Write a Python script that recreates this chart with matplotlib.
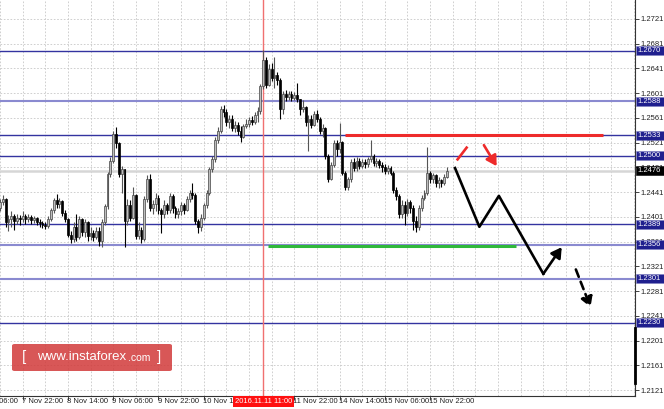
import numpy as np
import matplotlib.pyplot as plt
from matplotlib.patches import Rectangle, FancyBboxPatch, FancyArrowPatch

plt.rcParams['font.family'] = ['Liberation Sans', 'DejaVu Sans']

# hourly candles (bar index = position on chart)
first_open = 1.2415
close = [1.2425,1.2430,1.2392,1.2398,1.2402,1.2395,1.2400,1.2397,1.2403,1.2398,
         1.2401,1.2396,1.2399,1.2393,1.2391,1.2388,1.2386,1.2398,1.2412,1.2428,
         1.2422,1.2426,1.2408,1.2398,1.2372,1.2366,1.2385,1.2368,1.2398,1.2376,
         1.2392,1.2370,1.2375,1.2369,1.2378,1.2362,1.2392,1.2418,1.2470,1.2492,
         1.2535,1.2520,1.2470,1.2478,1.2395,1.2420,1.2400,1.2436,1.2370,1.2380,
         1.2365,1.2430,1.2462,1.2415,1.2422,1.2432,1.2412,1.2405,1.2420,1.2412,
         1.2435,1.2415,1.2405,1.2410,1.2420,1.2412,1.2430,1.2440,1.2436,1.2394,
         1.2385,1.2400,1.2420,1.2440,1.2478,1.2495,1.2525,1.2540,1.2575,1.2570,
         1.2555,1.2560,1.2545,1.2550,1.2540,1.2530,1.2548,1.2552,1.2558,1.2555,
         1.2565,1.2572,1.2612,1.2655,1.2615,1.2640,1.2625,1.2630,1.2622,1.2575,
         1.2600,1.2595,1.2600,1.2594,1.2598,1.2592,1.2575,1.2578,1.2555,1.2560,
         1.2550,1.2568,1.2560,1.2540,1.2545,1.2500,1.2462,1.2485,1.2520,1.2510,
         1.2522,1.2472,1.2450,1.2462,1.2490,1.2480,1.2492,1.2484,1.2490,1.2486,
         1.2494,1.2500,1.2488,1.2492,1.2485,1.2482,1.2476,1.2480,1.2472,1.2445,
         1.2434,1.2405,1.2420,1.2408,1.2425,1.2415,1.2395,1.2385,1.2415,1.2432,
         1.2440,1.2472,1.2462,1.2468,1.2456,1.2460,1.2455,1.2466,1.2476]
high = [1.2430,1.2436,1.2432,1.2404,1.2410,1.2405,1.2406,1.2404,1.2410,1.2406,
        1.2405,1.2404,1.2403,1.2401,1.2397,1.2394,1.2392,1.2402,1.2415,1.2432,
        1.2438,1.2432,1.2428,1.2412,1.2400,1.2378,1.2392,1.2405,1.2402,1.2400,
        1.2398,1.2395,1.2384,1.2380,1.2385,1.2384,1.2398,1.2422,1.2474,1.2498,
        1.2540,1.2546,1.2522,1.2484,1.2478,1.2430,1.2428,1.2450,1.2438,1.2392,
        1.2385,1.2435,1.2468,1.2470,1.2428,1.2440,1.2436,1.2415,1.2428,1.2424,
        1.2440,1.2438,1.2418,1.2416,1.2425,1.2424,1.2435,1.2445,1.2456,1.2440,
        1.2398,1.2405,1.2424,1.2444,1.2482,1.2500,1.2530,1.2546,1.2580,1.2582,
        1.2575,1.2566,1.2565,1.2556,1.2555,1.2548,1.2552,1.2560,1.2562,1.2564,
        1.2570,1.2578,1.2616,1.2671,1.2660,1.2648,1.2650,1.2660,1.2635,1.2625,
        1.2605,1.2606,1.2605,1.2604,1.2603,1.2618,1.2592,1.2590,1.2580,1.2565,
        1.2566,1.2572,1.2574,1.2562,1.2552,1.2546,1.2502,1.2490,1.2525,1.2526,
        1.2553,1.2524,1.2475,1.2466,1.2494,1.2496,1.2498,1.2496,1.2495,1.2494,
        1.2498,1.2525,1.2502,1.2496,1.2495,1.2490,1.2486,1.2485,1.2484,1.2476,
        1.2450,1.2438,1.2428,1.2426,1.2430,1.2428,1.2420,1.2402,1.2420,1.2436,
        1.2444,1.2514,1.2476,1.2472,1.2470,1.2465,1.2463,1.2470,1.2482]
low = [1.2410,1.2420,1.2385,1.2378,1.2385,1.2380,1.2390,1.2388,1.2393,1.2390,
       1.2392,1.2390,1.2391,1.2388,1.2385,1.2383,1.2381,1.2383,1.2395,1.2408,
       1.2416,1.2415,1.2402,1.2392,1.2368,1.2358,1.2360,1.2362,1.2365,1.2370,
       1.2368,1.2362,1.2364,1.2362,1.2365,1.2354,1.2352,1.2388,1.2414,1.2466,
       1.2488,1.2512,1.2465,1.2440,1.2352,1.2388,1.2395,1.2398,1.2365,1.2366,
       1.2358,1.2362,1.2425,1.2410,1.2405,1.2410,1.2405,1.2375,1.2400,1.2405,
       1.2408,1.2408,1.2400,1.2400,1.2404,1.2406,1.2410,1.2425,1.2430,1.2390,
       1.2375,1.2378,1.2396,1.2416,1.2436,1.2474,1.2490,1.2520,1.2536,1.2562,
       1.2548,1.2545,1.2540,1.2538,1.2534,1.2522,1.2528,1.2545,1.2546,1.2550,
       1.2552,1.2555,1.2568,1.2608,1.2610,1.2612,1.2620,1.2610,1.2615,1.2560,
       1.2568,1.2588,1.2590,1.2588,1.2590,1.2586,1.2565,1.2570,1.2548,1.2508,
       1.2545,1.2548,1.2555,1.2535,1.2530,1.2495,1.2458,1.2460,1.2482,1.2500,
       1.2505,1.2468,1.2444,1.2444,1.2458,1.2475,1.2476,1.2478,1.2480,1.2480,
       1.2482,1.2490,1.2484,1.2482,1.2480,1.2474,1.2470,1.2470,1.2468,1.2440,
       1.2428,1.2400,1.2400,1.2388,1.2402,1.2408,1.2380,1.2377,1.2380,1.2410,
       1.2428,1.2436,1.2456,1.2455,1.2450,1.2448,1.2450,1.2452,1.2464]

levels = [1.2670, 1.2588, 1.2533, 1.2500, 1.2389, 1.2356, 1.2301, 1.2230]
level_soft = [False, True, False, False, False, True, True, False]
last_price = 1.2476

ytick_vals = [1.2121, 1.2161, 1.2201, 1.2241, 1.2281, 1.2321, 1.2361, 1.2401,
              1.2441, 1.2481, 1.2521, 1.2561, 1.2601, 1.2641, 1.2681, 1.2721]
time_bars = [-8, 8, 24, 40, 56, 72, 88, 104, 120, 136, 152]
time_labels = ['7 Nov 06:00', '7 Nov 22:00', '8 Nov 14:00', '9 Nov 06:00', '9 Nov 22:00',
               '10 Nov 14:00', '11 Nov 06:00', '11 Nov 22:00', '14 Nov 14:00',
               '15 Nov 06:00', '15 Nov 22:00']
marker_bar = 93
marker_label = '2016.11.11 11:00'

# forecast drawing
red_line = ([121.9, 213.1], [1.2533, 1.2533])
green_line = ([94.7, 182.3], [1.2354, 1.2354])
path_x = [160.8, 169.4, 176.3, 192.0]
path_y = [1.2480, 1.2385, 1.2435, 1.2309]
path_tip = (198.5, 1.2352)
dash_arrow = ((203.5, 1.2316), (208.7, 1.2255))
red_dash = ([161.7, 164.9], [1.2494, 1.2513])
red_arrow = ((171.0, 1.2517), (175.5, 1.2483))

W, H = 664, 409
fig = plt.figure(figsize=(W / 100, H / 100), dpi=100)
ax = fig.add_axes([0, 13 / H, 635 / W, 396 / H])
ax.set_xlim(0, 224.4)
ax.set_ylim(1.21114, 1.27517)
ax.set_facecolor('white')

for s in ['top', 'left']:
    ax.spines[s].set_visible(False)
for s in ['right', 'bottom']:
    ax.spines[s].set_color('#333333')
    ax.spines[s].set_linewidth(0.8)

# grid
for b in range(0, 232, 8):
    ax.axvline(b, color='#c8c8c8', lw=0.6, ls=(0, (2, 2)), zorder=0)
for v in ytick_vals:
    ax.axhline(v, color='#c8c8c8', lw=0.6, ls=(0, (2, 2)), zorder=0)

ax.yaxis.tick_right()
ax.set_yticks(ytick_vals)
ax.set_yticklabels(['%.4f' % v for v in ytick_vals], fontsize=5.5, color='#222222')
ax.tick_params(axis='y', length=3, width=0.6, pad=1.2, colors='#222222')
ax.set_xticks([b for b in time_bars if b >= 0])
ax.set_xticklabels([])
ax.tick_params(axis='x', length=3, width=0.6, colors='#222222', direction='out')

xtr = ax.get_xaxis_transform()
for lab, b in zip(time_labels, time_bars):
    ax.text(b - 0.3, -0.013, lab, transform=xtr, fontsize=5.5,
            ha='left', va='center', color='#222222', clip_on=False)

# levels
for lv, soft in zip(levels, level_soft):
    if soft:
        ax.axhline(lv, color='#8a8ad0', lw=1.5, zorder=1)
    else:
        ax.axhline(lv, color='#3333a0', lw=1.0, zorder=1)
ax.axhline(last_price, color='#d6d6d6', lw=1.8, zorder=0.5)

ax.axvline(marker_bar, color='#f07070', lw=1.0, zorder=1.5)

# candles
c = np.array(close)
o = np.array([first_open] + close[:-1])
h = np.maximum(np.array(high), np.maximum(o, c))
l = np.minimum(np.array(low), np.minimum(o, c))
x = np.arange(len(c))
up = c >= o
dn = ~up
ax.vlines(x[up], l[up], h[up], color='#555555', lw=0.8, zorder=2)
ax.vlines(x[dn], l[dn], h[dn], color='#000000', lw=0.8, zorder=2)
body_lo = np.minimum(o, c)
body_h = np.maximum(np.abs(c - o), 0.00008)
ax.bar(x[up], body_h[up], bottom=body_lo[up], width=0.66, color='#bdbdbd',
       edgecolor='#444444', lw=0.5, zorder=3)
ax.bar(x[dn], body_h[dn], bottom=body_lo[dn], width=0.66, color='#000000',
       edgecolor='#000000', lw=0.5, zorder=3)

# forecast lines and arrows
ax.plot(*red_line, color='#ee2b2b', lw=2.2, zorder=4, solid_capstyle='butt')
ax.plot(*green_line, color='#2fb83a', lw=2.2, zorder=4, solid_capstyle='butt')
ax.plot(path_x, path_y, color='black', lw=1.9, zorder=4)
ax.add_patch(FancyArrowPatch((path_x[-1], path_y[-1]), path_tip,
                             arrowstyle='-|>,head_length=6,head_width=3.5', color='black',
                             lw=1.9, zorder=5, shrinkA=0, shrinkB=0))
ax.add_patch(FancyArrowPatch(dash_arrow[0], dash_arrow[1],
                             arrowstyle='-|>,head_length=6,head_width=3.5', color='black',
                             lw=1.9, ls=(0, (3, 2)), zorder=5, shrinkA=0, shrinkB=0))
ax.plot(*red_dash, color='#ee2b2b', lw=1.9, zorder=4)
ax.add_patch(FancyArrowPatch(red_arrow[0], red_arrow[1],
                             arrowstyle='-|>,head_length=6,head_width=3.5', color='#ee2b2b',
                             lw=1.9, zorder=5, shrinkA=0, shrinkB=0))

# price boxes on the right scale
ytr = ax.get_yaxis_transform()
box_h = 0.00148
for lv in levels + [last_price]:
    fc = '#000000' if lv == last_price else '#1f1f8e'
    ax.add_patch(Rectangle((1.0015, lv - box_h / 2), 0.046, box_h, transform=ytr,
                           facecolor=fc, edgecolor='#8080c0' if fc != '#000000' else '#000000',
                           lw=0.4, clip_on=False, zorder=6))
    ax.text(1.0045, lv, '%.4f' % lv, transform=ytr, fontsize=5.5, color='white',
            ha='left', va='center', clip_on=False, zorder=7)

# thick mark on price scale
ax.plot([1.0, 1.0], [1.2222, 1.2133], transform=ytr, color='black', lw=2.0,
        clip_on=False, zorder=6)

# highlighted time label
ax.text(marker_bar, -0.013, marker_label, transform=xtr, fontsize=5.5, color='white',
        ha='center', va='center', clip_on=False, zorder=8,
        bbox=dict(boxstyle='square,pad=0.25', fc='#ff1010', ec='none'))

# watermark
fig.patches.append(FancyBboxPatch((12 / W, 1 - 371 / H), 160 / W, 27 / H,
                                  boxstyle='round,pad=0,rounding_size=0.004',
                                  transform=fig.transFigure, facecolor='#d23a3a',
                                  edgecolor='none', alpha=0.85, zorder=10))
fig.text(22 / W, 1 - 357 / H, '[', fontsize=11, color='white', va='center', ha='left', zorder=11)
fig.text(37 / W, 1 - 357 / H, 'www.instaforex', fontsize=9.5, color='white', va='center',
         ha='left', zorder=11)
fig.text(128 / W, 1 - 358 / H, '.com', fontsize=7.5, color='white', va='center', ha='left',
         zorder=11)
fig.text(157 / W, 1 - 357 / H, ']', fontsize=11, color='white', va='center', ha='left', zorder=11)

fig.savefig('out.png', dpi=100)
